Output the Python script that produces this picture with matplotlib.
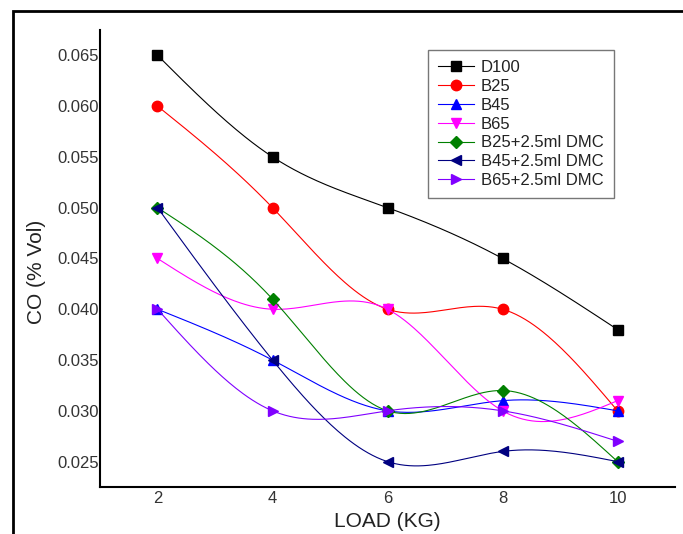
import numpy as np
import matplotlib.pyplot as plt
from matplotlib.patches import Rectangle

load = [2, 4, 6, 8, 10]

d100 = [0.065, 0.055, 0.050, 0.045, 0.038]
b25 = [0.060, 0.050, 0.040, 0.040, 0.030]
b45 = [0.040, 0.035, 0.030, 0.031, 0.030]
b65 = [0.045, 0.040, 0.040, 0.030, 0.031]
b25_dmc = [0.050, 0.041, 0.030, 0.032, 0.025]
b45_dmc = [0.050, 0.035, 0.025, 0.026, 0.025]
b65_dmc = [0.040, 0.030, 0.030, 0.030, 0.027]

names = ['D100', 'B25', 'B45', 'B65',
         'B25+2.5ml DMC', 'B45+2.5ml DMC', 'B65+2.5ml DMC']
series = [d100, b25, b45, b65, b25_dmc, b45_dmc, b65_dmc]
colors = ['black', 'red', 'blue', '#ff00ff', 'green', '#000080', '#8000ff']
markers = ['s', 'o', '^', 'v', 'D', '<', '>']
msizes = [7, 7.5, 7.5, 7.5, 6.5, 7.5, 7.5]


def spline(x, y, n=200):
    # natural cubic spline, only used to smooth the connecting line
    x = np.asarray(x, float)
    y = np.asarray(y, float)
    k = len(x)
    h = np.diff(x)
    A = np.zeros((k, k))
    r = np.zeros(k)
    A[0, 0] = A[-1, -1] = 1
    for i in range(1, k - 1):
        A[i, i - 1] = h[i - 1]
        A[i, i] = 2 * (h[i - 1] + h[i])
        A[i, i + 1] = h[i]
        r[i] = 6 * ((y[i + 1] - y[i]) / h[i] - (y[i] - y[i - 1]) / h[i - 1])
    M = np.linalg.solve(A, r)
    xs = np.linspace(x[0], x[-1], n)
    j = np.clip(np.searchsorted(x, xs) - 1, 0, k - 2)
    t1 = x[j + 1] - xs
    t0 = xs - x[j]
    hj = h[j]
    ys = (M[j] * t1**3 + M[j + 1] * t0**3) / (6 * hj) \
        + (y[j] / hj - M[j] * hj / 6) * t1 \
        + (y[j + 1] / hj - M[j + 1] * hj / 6) * t0
    return xs, ys


plt.rcParams['font.family'] = ['Liberation Sans', 'DejaVu Sans']

fig = plt.figure(figsize=(6.83, 5.34), dpi=100)
ax = fig.add_axes([0.1464, 0.088, 0.842, 0.856])

for name, vals, c, m, ms in zip(names, series, colors, markers, msizes):
    xs, ys = spline(load, vals)
    ax.plot(xs, ys, color=c, linewidth=0.8)
    ax.plot(load, vals, linestyle='none', marker=m, color=c, markersize=ms)
    # proxy for the legend entry
    ax.plot([], [], color=c, linewidth=0.8, marker=m, markersize=ms, label=name)

ax.set_xlim(1, 11)
ax.set_ylim(0.0225, 0.0675)
ax.set_xticks(load)
ax.set_yticks([0.025, 0.030, 0.035, 0.040, 0.045, 0.050, 0.055, 0.060, 0.065])
ax.set_yticklabels(['0.025', '0.030', '0.035', '0.040', '0.045',
                    '0.050', '0.055', '0.060', '0.065'])
ax.tick_params(length=0, labelsize=12, labelcolor='#333333')
ax.tick_params(axis='y', pad=1)
ax.tick_params(axis='x', pad=3)
ax.spines['top'].set_visible(False)
ax.spines['right'].set_visible(False)
ax.spines['left'].set_linewidth(1.5)
ax.spines['bottom'].set_linewidth(1.5)

ax.set_xlabel('LOAD (KG)', fontsize=15, color='#222222')
ax.set_ylabel('CO (% Vol)', fontsize=15, color='#222222')
ax.xaxis.set_label_coords(0.5, -0.055)
ax.yaxis.set_label_coords(-0.094, 0.47)

handles, labels = ax.get_legend_handles_labels()
leg = ax.legend(handles, labels, loc='upper left',
                bbox_to_anchor=(0.570, 0.956), fontsize=12, frameon=True,
                fancybox=False, edgecolor='#555555', handlelength=2.2,
                labelspacing=0.23, borderpad=0.6, handletextpad=0.4,
                borderaxespad=0)
leg.get_frame().set_linewidth(1.0)
for t in leg.get_texts():
    t.set_color('#222222')

# outer frame around the figure
fig.add_artist(Rectangle((13 / 683, -0.2), 1.2, 1.2 - 11 / 534,
                         transform=fig.transFigure, fill=False,
                         edgecolor='black', linewidth=2, clip_on=False))

fig.savefig('out.png', dpi=100)
